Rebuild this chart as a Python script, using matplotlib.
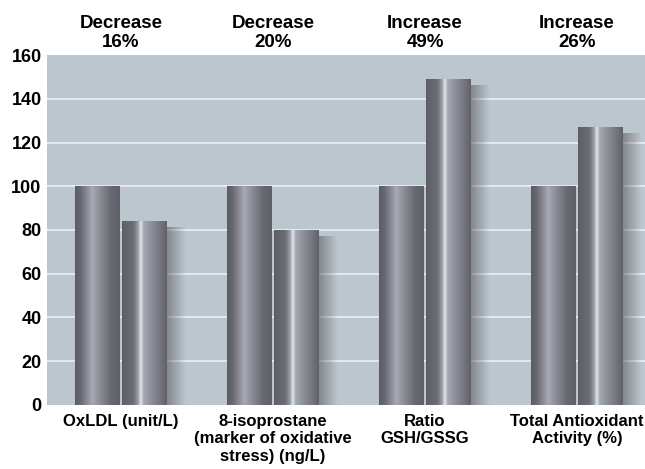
import numpy as np
import matplotlib.pyplot as plt
from matplotlib.patches import Rectangle

plt.rcParams['font.family'] = ['Liberation Sans', 'DejaVu Sans']

# data
groups = ["OxLDL (unit/L)", "8-isoprostane\n(marker of oxidative\nstress) (ng/L)",
          "Ratio\nGSH/GSSG", "Total Antioxidant\nActivity (%)"]
before = [100, 100, 100, 100]
after = [84, 80, 149, 127]
changes = ["Decrease\n16%", "Decrease\n20%", "Increase\n49%", "Increase\n26%"]
yticks = [0, 20, 40, 60, 80, 100, 120, 140, 160]

BG = "#bcc6cf"
BAR_W = 0.296
OFFSET = 0.153


def cylinder(stops, n=64):
    pos = [s[0] for s in stops]
    cols = np.array([s[1] for s in stops], dtype=float) / 255.0
    xs = np.linspace(0, 1, n)
    img = np.stack([np.interp(xs, pos, cols[:, k]) for k in range(3)], axis=-1)
    return img[np.newaxis, :, :]


grad_first = cylinder([(0.0, (92, 92, 100)), (0.12, (104, 104, 112)),
                       (0.38, (165, 170, 180)), (0.55, (140, 142, 151)),
                       (0.8, (104, 104, 112)), (1.0, (95, 95, 103))])
grad_second = cylinder([(0.0, (94, 94, 102)), (0.25, (108, 109, 117)),
                        (0.36, (155, 160, 170)), (0.42, (228, 234, 240)),
                        (0.48, (165, 169, 177)), (0.75, (130, 132, 141)),
                        (1.0, (98, 98, 107))])

fig = plt.figure(figsize=(6.45, 4.69), dpi=100)
ax = fig.add_axes([0.073, 0.1365, 0.927, 0.7462])
ax.set_facecolor(BG)

for y in yticks[1:-1]:
    ax.axhline(y, color="#e4eaef", lw=1.4, zorder=1)


def draw_bar(x, h, grad, shadow=False):
    x0, x1 = x - BAR_W / 2, x + BAR_W / 2
    if shadow:
        sh = np.zeros((1, 32, 4))
        sh[..., :3] = 0.33
        sh[..., 3] = np.linspace(0.55, 0.0, 32)
        ax.imshow(sh, extent=[x1, x1 + 0.12, 0, h - 3], aspect="auto",
                  interpolation="bilinear", zorder=2)
    rect = Rectangle((x0, 0), BAR_W, h, facecolor="none", edgecolor="none", zorder=3)
    ax.add_patch(rect)
    im = ax.imshow(grad, extent=[x0, x1, 0, h], aspect="auto",
                   interpolation="bilinear", zorder=3)
    im.set_clip_path(rect)


for i in range(len(groups)):
    draw_bar(i + OFFSET, after[i], grad_second, shadow=True)
    draw_bar(i - OFFSET, before[i], grad_first)

ax.set_xlim(-0.487, 3.447)
ax.set_ylim(0, 160)
ax.set_yticks(yticks)
ax.set_yticklabels([str(v) for v in yticks], fontsize=13, fontweight="bold")
ax.set_xticks(range(len(groups)))
ax.set_xticklabels(groups, fontsize=12, fontweight="bold", linespacing=1.2)
ax.tick_params(axis="y", length=0, pad=4)
ax.tick_params(axis="x", length=0, pad=6.5)
for s in ax.spines.values():
    s.set_visible(False)

for i, txt in enumerate(changes):
    ax.annotate(txt, xy=(i, 1.064), xycoords=("data", "axes fraction"),
                ha="center", va="center", fontsize=13.5, fontweight="bold",
                linespacing=1.15, annotation_clip=False)

fig.savefig("out.png", dpi=100)
